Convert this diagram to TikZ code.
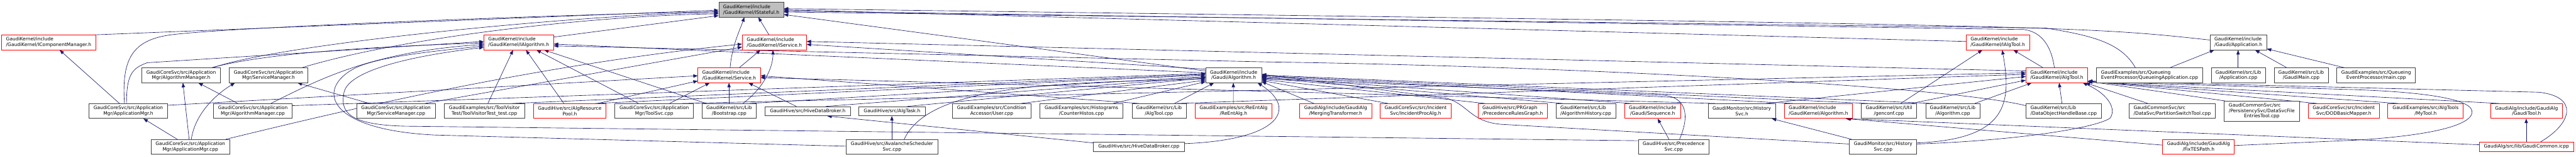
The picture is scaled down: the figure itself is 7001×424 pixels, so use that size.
\documentclass[tikz,border=0pt]{standalone}
\usepackage{fontspec}
\setmainfont{DejaVu Sans}
\usepackage{calc}
\usetikzlibrary{arrows.meta}
\pgfdeclarelayer{back}
\pgfdeclarelayer{bg}
\pgfsetlayers{back,bg,main}
\definecolor{edgec}{HTML}{191970}
\definecolor{nodeb}{HTML}{404040}
\definecolor{nodered}{HTML}{FF0000}
\definecolor{rootfill}{HTML}{BFBFBF}
\newcommand\ptop[2]{([xshift=#2pt]#1.north west)}
\newcommand\pbot[2]{([xshift=#2pt]#1.south west)}
\newcommand\plft[2]{([yshift=-#2pt]#1.north west)}
\newcommand\prgt[2]{([yshift=-#2pt]#1.north east)}
\begin{document}
\begin{tikzpicture}[x=1pt,y=-1pt,
  box/.style={rectangle, draw=nodeb, line width=1.2pt, inner sep=0pt, minimum height=40pt,
    font=\fontsize{12.8pt}{15pt}\selectfont, align=center, fill=white},
  rbox/.style={box, draw=nodered},
  lft/.style={align=left},
  one/.style={minimum height=25pt},
  e/.style={draw=edgec, line width=1.1pt, -{Triangle[length=12pt,width=9pt]}}]
\useasboundingbox (0,0) rectangle (7001,424);
\begin{pgfonlayer}{back}
\fill[white] (0,0) rectangle (7001,424);
\end{pgfonlayer}
% row 0
\node[box,fill=rootfill,lft,minimum width=176.1pt] (root) at (2041.55,26) {GaudiKernel/include\\/GaudiKernel/IStateful.h};
% row 1
\node[rbox,lft,minimum width=255.6pt] (icm) at (132.4,115) {GaudiKernel/include\\/GaudiKernel/IComponentManager.h};
\node[rbox,lft,minimum width=189.4pt] (ialg) at (1409.7,115) {GaudiKernel/include\\/GaudiKernel/IAlgorithm.h};
\node[rbox,lft,minimum width=174.2pt] (iserv) at (2104.5,115) {GaudiKernel/include\\/GaudiKernel/IService.h};
\node[rbox,lft,minimum width=172.6pt] (ialgtool) at (5429.5,115) {GaudiKernel/include\\/GaudiKernel/IAlgTool.h};
\node[box,lft,minimum width=153.8pt] (apph) at (6083.2,115) {GaudiKernel/include\\/Gaudi/Application.h};
% row 2
\node[box,minimum width=213.2pt] (algmgrh) at (492.3,204) {GaudiCoreSvc/src/Application\\Mgr/AlgorithmManager.h};
\node[box,minimum width=213.2pt] (svcmgrh) at (729.8,204) {GaudiCoreSvc/src/Application\\Mgr/ServiceManager.h};
\node[rbox,lft,minimum width=169.5pt] (serviceh) at (1981.65,204) {GaudiKernel/include\\/GaudiKernel/Service.h};
\node[box,minimum width=151.5pt] (galgh) at (3352.75,204) {GaudiKernel/include\\/Gaudi/Algorithm.h};
\node[rbox,lft,minimum width=168pt] (algtoolh) at (5589.9,204) {GaudiKernel/include\\/GaudiKernel/AlgTool.h};
\node[box,lft,minimum width=288pt] (queueapp) at (5842,204) {GaudiExamples/src/Queueing\\EventProcessor/QueueingApplication.cpp};
\node[box,minimum width=147pt] (appcpp) at (6083.2,204) {GaudiKernel/src/Lib\\/Application.cpp};
\node[box,minimum width=147pt] (gaudimain) at (6253.9,204) {GaudiKernel/src/Lib\\/GaudiMain.cpp};
\node[box,minimum width=213.6pt] (maincpp) at (6457.8,204) {GaudiExamples/src/Queueing\\EventProcessor/main.cpp};
% row 3
\node[box,minimum width=213.5pt] (appmgrh) at (348.65,301) {GaudiCoreSvc/src/Application\\Mgr/ApplicationMgr.h};
\node[box,minimum width=212.7pt] (algmgrcpp) at (687.15,301) {GaudiCoreSvc/src/Application\\Mgr/AlgorithmManager.cpp};
\node[box,minimum width=213.4pt] (svcmgrcpp) at (1076.3,301) {GaudiCoreSvc/src/Application\\Mgr/ServiceManager.cpp};
\node[box,minimum width=219pt] (toolvisit) at (1316.5,301) {GaudiExamples/src/ToolVisitor\\Test/ToolVisitorTest\_test.cpp};
\node[rbox,minimum width=197.5pt] (algrespool) at (1548.45,301) {GaudiHive/src/AlgResource\\Pool.h};
\node[box,minimum width=213.4pt] (toolsvc) at (1778,301) {GaudiCoreSvc/src/Application\\Mgr/ToolSvc.cpp};
\node[box,minimum width=146.6pt] (bootstrap) at (1981.7,301) {GaudiKernel/src/Lib\\/Bootstrap.cpp};
\node[box,one,minimum width=232.4pt] (hivedbh) at (2195.2,301.5) {GaudiHive/src/HiveDataBroker.h};
\node[box,one,minimum width=179.9pt] (algtask) at (2424.45,301.5) {GaudiHive/src/AlgTask.h};
\node[box,minimum width=213.1pt] (usercpp) at (2695.25,301) {GaudiExamples/src/Condition\\Accessor/User.cpp};
\node[box,minimum width=226.4pt] (counterh) at (2939.1,301) {GaudiExamples/src/Histograms\\/CounterHistos.cpp};
\node[box,minimum width=147pt] (algtoolcpp) at (3149.9,301) {GaudiKernel/src/Lib\\/AlgTool.cpp};
\node[rbox,minimum width=209.7pt] (reentalg) at (3352.35,301) {GaudiExamples/src/ReEntAlg\\/ReEntAlg.h};
\node[rbox,minimum width=195.2pt] (mergingt) at (3630,301) {GaudiAlg/include/GaudiAlg\\/MergingTransformer.h};
\node[rbox,minimum width=192.8pt] (incproc) at (3847.4,301) {GaudiCoreSvc/src/Incident\\Svc/IncidentProcAlg.h};
\node[rbox,lft,minimum width=187pt] (prgraph) at (4111.2,301) {GaudiHive/src/PRGraph\\/PrecedenceRulesGraph.h};
\node[box,lft,minimum width=162.6pt] (alghist) at (4309.7,301) {GaudiKernel/src/Lib\\/AlgorithmHistory.cpp};
\node[rbox,minimum width=152.4pt] (sequence) at (4491.3,301) {GaudiKernel/include\\/Gaudi/Sequence.h};
\node[box,minimum width=182.9pt] (histsvch) at (4733.75,301) {GaudiMonitor/src/History\\Svc.h};
\node[rbox,lft,minimum width=186pt] (gkalgh) at (4942,301) {GaudiKernel/include\\/GaudiKernel/Algorithm.h};
\node[box,minimum width=151.1pt] (genconf) at (5133.85,301) {GaudiKernel/src/Util\\/genconf.cpp};
\node[box,minimum width=147.3pt] (algcpp) at (5307.05,301) {GaudiKernel/src/Lib\\/Algorithm.cpp};
\node[box,lft,minimum width=204.4pt] (dohb) at (5608.4,301) {GaudiKernel/src/Lib\\/DataObjectHandleBase.cpp};
\node[box,lft,minimum width=234.8pt] (partsw) at (5903.4,301) {GaudiCommonSvc/src\\/DataSvc/PartitionSwitchTool.cpp};
\node[box,minimum width=204pt,minimum height=54pt] (dsfe) at (6146.9,301) {\makebox[\widthof{/PersistencySvc/DataSvcFile}][l]{GaudiCommonSvc/src}\\/PersistencySvc/DataSvcFile\\EntriesTool.cpp};
\node[rbox,minimum width=192pt] (dodmap) at (6369.8,301) {GaudiCoreSvc/src/Incident\\Svc/DODBasicMapper.h};
\node[rbox,minimum width=205.2pt] (mytool) at (6592.1,301) {GaudiExamples/src/AlgTools\\/MyTool.h};
\node[rbox,minimum width=194.4pt] (gaudtool) at (6866.5,301) {GaudiAlg/include/GaudiAlg\\/GaudiTool.h};
% row 4
\node[box,minimum width=213.4pt] (appmgrcpp) at (517.3,398) {GaudiCoreSvc/src/Application\\Mgr/ApplicationMgr.cpp};
\node[box,minimum width=248.5pt] (avalanche) at (2424.25,398) {GaudiHive/src/AvalancheScheduler\\Svc.cpp};
\node[box,one,minimum width=246.5pt] (hivedbcpp) at (3095.15,397.5) {GaudiHive/src/HiveDataBroker.cpp};
\node[box,minimum width=192.5pt] (precsvc) at (4548.55,398) {GaudiHive/src/Precedence\\Svc.cpp};
\node[box,minimum width=182.9pt] (histsvccpp) at (5117.95,398) {GaudiMonitor/src/History\\Svc.cpp};
\node[rbox,minimum width=194.8pt] (fixtes) at (5975.1,398) {GaudiAlg/include/GaudiAlg\\/FixTESPath.h};
\node[rbox,one,minimum width=256pt] (gcommon) at (6866.3,397.5) {GaudiAlg/src/lib/GaudiCommon.icpp};

\begin{pgfonlayer}{bg}
% --- into IStateful.h
\draw[e] \ptop{icm}{253} -- \plft{root}{22};
\draw[e] \ptop{appmgrh}{97} .. controls (330,160) and (360,110) .. (460,95) .. controls (600,75) and (1500,40) .. \plft{root}{26};
\draw[e] \ptop{algmgrh}{194} .. controls +(200,-70) and +(-300,0) .. \plft{root}{29};
\draw[e] \ptop{svcmgrh}{198} .. controls +(300,-90) and +(-300,4) .. \plft{root}{32};
\draw[e] \prgt{ialg}{6} -- \plft{root}{37};
\draw[e] \ptop{iserv}{73} -- \pbot{root}{108};
\draw[e] \ptop{serviceh}{88} .. controls +(5,-60) and +(-12,35) .. \pbot{root}{70};
\draw[e] \plft{galgh}{9} -- \prgt{root}{34};
\draw[e] \plft{ialgtool}{18} -- \prgt{root}{21};
\draw[e] \plft{apph}{14} .. controls (5650,70) .. \prgt{root}{18};
\draw[e] \ptop{algtoolh}{78} .. controls +(-10,-70) and +(40,5) .. (5500,80) -- \prgt{root}{24};
\draw[e] \ptop{queueapp}{106} .. controls +(-40,-70) and +(120,20) .. (5560,76) -- \prgt{root}{27};
% --- into IAlgorithm.h
\draw[e] \ptop{toolvisit}{119.5} -- \pbot{ialg}{80};
\draw[e] \ptop{algrespool}{83.4} -- \pbot{ialg}{115};
\draw[e] \ptop{toolsvc}{64.7} -- \pbot{ialg}{143.5};
\draw[e] \ptop{bootstrap}{11.5} -- \pbot{ialg}{164.5};
\draw[e] \plft{galgh}{14} -- \prgt{ialg}{25};
\draw[e] \plft{dohb}{6} .. controls (5300,235) and (4300,180) .. (3450,168) -- \prgt{ialg}{30};
\draw[e] \ptop{appmgrh}{102.5} .. controls (344,200) and (360,185) .. (400,170) -- \plft{ialg}{18};
\draw[e] \ptop{algmgrh}{190} .. controls +(150,-40) and +(-300,10) .. \plft{ialg}{22};
\draw[e] \ptop{algmgrcpp}{156} .. controls +(140,-70) and +(-300,20) .. \plft{ialg}{26};
\draw[e] \plft{avalanche}{19} -- (1180,366) .. controls (870,350) and (860,230) .. (975,180) .. controls (1050,150) and (1200,137) .. \plft{ialg}{30};
\draw[e] \plft{precsvc}{4} -- (1100,342) .. controls (940,338) and (925,300) .. (935,250) .. controls (945,205) and (1050,160) .. \plft{ialg}{34};
% --- into IService.h
\draw[e] \ptop{serviceh}{113} -- \pbot{iserv}{50};
\draw[e] \ptop{bootstrap}{111} .. controls +(56,-41) and +(0,48) .. \pbot{iserv}{84};
\draw[e] \ptop{appmgrcpp}{204} .. controls +(250,-60) and +(-600,60) .. \plft{iserv}{25};
\draw[e] \ptop{svcmgrcpp}{186} -- \plft{iserv}{33};
\draw[e] \plft{galgh}{4} -- \prgt{iserv}{26};
\draw[e] \plft{algtoolh}{9} -- \prgt{iserv}{18};
% --- into Service.h
\draw[e] \prgt{appmgrh}{5} -- \plft{serviceh}{22};
\draw[e] \ptop{algrespool}{175} -- \plft{serviceh}{36};
\draw[e] \ptop{toolsvc}{149} -- \pbot{serviceh}{32.5};
\draw[e] \ptop{bootstrap}{73.5} -- \pbot{serviceh}{85};
\draw[e] \ptop{hivedbh}{86} -- \pbot{serviceh}{138};
\draw[e] \ptop{algtoolcpp}{19} -- \prgt{serviceh}{22};
\draw[e] \ptop{histsvch}{19} -- \prgt{serviceh}{27};
% --- into Gaudi/Algorithm.h
\draw[e] \prgt{algmgrcpp}{6} -- \plft{galgh}{16};
\draw[e] \ptop{toolvisit}{186} -- \plft{galgh}{18};
\draw[e] \ptop{algrespool}{169} -- \plft{galgh}{20};
\draw[e] \ptop{bootstrap}{130} -- \plft{galgh}{24};
\draw[e] \ptop{hivedbh}{166} -- \plft{galgh}{26};
\draw[e] \ptop{algtask}{132} -- \plft{galgh}{28};
\draw[e] \ptop{avalanche}{158} .. controls +(70,-150) and +(-400,10) .. \plft{galgh}{31};
\draw[e] \ptop{usercpp}{187} -- \plft{galgh}{34};
\draw[e] \ptop{counterh}{200} -- \plft{galgh}{38};
\draw[e] \ptop{algtoolcpp}{116} -- \pbot{galgh}{23};
\draw[e] \ptop{reentalg}{105} -- \pbot{galgh}{75.5};
\draw[e] \prgt{hivedbcpp}{5} .. controls +(260,-10) and +(110,70) .. \pbot{galgh}{141.5};
\draw[e] \ptop{precsvc}{113} .. controls +(30,-70) and +(60,5) .. (4520,258) -- \prgt{galgh}{30};
\draw[e] \ptop{mergingt}{39} -- \prgt{galgh}{38};
\draw[e] \ptop{incproc}{22} -- \prgt{galgh}{35};
\draw[e] \ptop{prgraph}{19} -- \prgt{galgh}{32};
\draw[e] \ptop{alghist}{19} -- \prgt{galgh}{28};
\draw[e] \ptop{sequence}{18} -- \prgt{galgh}{26};
\draw[e] \ptop{gkalgh}{24} -- \prgt{galgh}{24};
\draw[e] \ptop{genconf}{18} -- \prgt{galgh}{22};
\draw[e] \ptop{algcpp}{19} -- \prgt{galgh}{20};
\draw[e] \plft{histsvccpp}{13} -- (4080,337) .. controls (3995,330) and (3990,282) .. (3930,266) -- \prgt{galgh}{18};
% --- into IAlgTool.h
\draw[e] \ptop{algtoolh}{47} -- \pbot{ialgtool}{129.4};
\draw[e] \ptop{genconf}{108} -- \pbot{ialgtool}{45};
\draw[e] \prgt{histsvccpp}{10} .. controls +(250,-10) and +(25,140) .. \pbot{ialgtool}{99};
% --- into AlgTool.h
\draw[e] \ptop{toolsvc}{183.5} -- \plft{algtoolh}{14};
\draw[e] \ptop{algtoolcpp}{124} -- \plft{algtoolh}{18};
\draw[e] \ptop{histsvch}{158} -- \plft{algtoolh}{24};
\draw[e] \ptop{genconf}{137} -- \plft{algtoolh}{34};
\draw[e] \ptop{algcpp}{134} -- \pbot{algtoolh}{16.4};
\draw[e] \ptop{dohb}{98.4} -- \pbot{algtoolh}{91};
\draw[e] \prgt{histsvccpp}{13} .. controls (5500,380) and (5700,345) .. (5735,320) .. controls (5755,290) and (5720,250) .. \pbot{algtoolh}{155};
\draw[e] \ptop{partsw}{52} -- \pbot{algtoolh}{163};
\draw[e] \ptop{dsfe}{2} -- \prgt{algtoolh}{37};
\draw[e] \ptop{dodmap}{24} -- \prgt{algtoolh}{37};
\draw[e] \ptop{mytool}{29} -- \prgt{algtoolh}{38};
\draw[e] \ptop{gaudtool}{23} -- \prgt{algtoolh}{38};
\draw[e] \ptop{gcommon}{167} .. controls (6990,335) and (7010,262) .. (6900,250) -- \prgt{algtoolh}{36};
\draw[e] \prgt{fixtes}{17} -- (6400,380) .. controls (6650,365) and (6725,330) .. (6718,300) .. controls (6712,270) and (6600,250) .. (6400,243) -- \prgt{algtoolh}{38};
% --- into Application.h
\draw[e] \ptop{queueapp}{200} -- \pbot{apph}{12};
\draw[e] \ptop{appcpp}{73.5} -- \pbot{apph}{76.9};
\draw[e] \ptop{gaudimain}{35} -- \pbot{apph}{123};
\draw[e] \ptop{maincpp}{21} -- \prgt{apph}{38};
% --- other
\draw[e] \ptop{appmgrh}{83.4} -- \pbot{icm}{158};
\draw[e] \ptop{appmgrcpp}{71.6} -- \pbot{appmgrh}{148.5};
\draw[e] \ptop{appmgrcpp}{104} -- \pbot{algmgrh}{112};
\draw[e] \ptop{appmgrcpp}{110} .. controls +(10,-70) and +(-50,30) .. \pbot{svcmgrh}{16};
\draw[e] \ptop{algmgrcpp}{66} -- \pbot{algmgrh}{154};
\draw[e] \ptop{svcmgrcpp}{35} -- \pbot{svcmgrh}{186};
\draw[e] \ptop{avalanche}{124.5} -- \pbot{algtask}{90};
\draw[e] \plft{hivedbcpp}{3} -- \pbot{hivedbh}{170};
\draw[e] \ptop{precsvc}{84} -- \pbot{sequence}{90.7};
\draw[e] \ptop{histsvccpp}{5.7} -- \pbot{histsvch}{173.7};
\draw[e] \ptop{gcommon}{128} -- \pbot{gaudtool}{97};
\draw[e] \plft{fixtes}{16} -- \pbot{gkalgh}{168};
\draw[e] \plft{gcommon}{8} -- \pbot{gkalgh}{170};
\end{pgfonlayer}
\end{tikzpicture}
\end{document}
